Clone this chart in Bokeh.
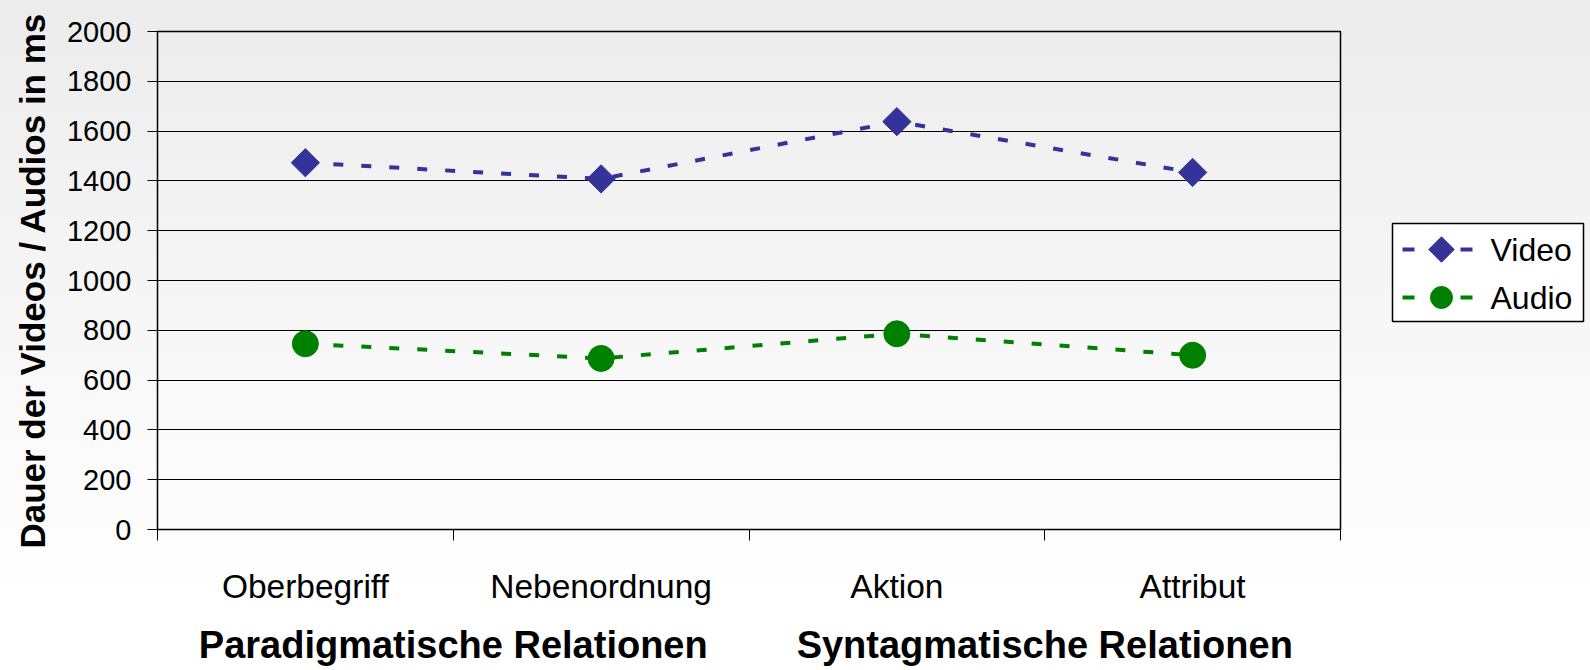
import math
from bokeh.plotting import figure
from bokeh.layouts import row
from bokeh.models import ColumnDataSource, FixedTicker, LinearAxis, Range1d
from bokeh.core.properties import value
from bokeh.embed import file_html
from bokeh.resources import INLINE

categories = ["Oberbegriff", "Nebenordnung", "Aktion", "Attribut"]
groups = ["Paradigmatische Relationen", "Syntagmatische Relationen"]
video = [1473, 1408, 1638, 1434]
audio = [746, 687, 786, 700]
y_ticks = [0, 200, 400, 600, 800, 1000, 1200, 1400, 1600, 1800, 2000]
series = ["Video", "Audio"]
series_colors = ["#333399", "#008000"]
series_markers = ["square", "circle"]

xpos = [i + 0.5 for i in range(len(categories))]
src = ColumnDataSource(dict(x=xpos, cat=categories, video=video, audio=audio))

FONT = "Liberation Sans"
BG = "linear-gradient(to bottom, #ececec 0%, #f8f8f8 55%, #ffffff 90%)"
DASH = "10 18"

p = figure(width=1342, height=670, output_backend="svg", toolbar_location=None,
           x_range=Range1d(0, len(categories)), y_range=Range1d(0, 2000),
           min_border_left=157, min_border_top=31, min_border_right=2, min_border_bottom=141)
p.styles = {"background": BG}
p.border_fill_alpha = 0
p.background_fill_alpha = 0
p.outline_line_color = "black"
p.outline_line_width = 1.5

p.xgrid.visible = False
p.ygrid.grid_line_color = "black"
p.ygrid.grid_line_width = 1
p.ygrid.ticker = FixedTicker(ticks=y_ticks)

# y axis
ya = p.yaxis[0]
ya.ticker = FixedTicker(ticks=y_ticks)
ya.axis_label = "Dauer der Videos / Audios in ms"
ya.axis_label_text_font = FONT
ya.axis_label_text_font_style = "bold"
ya.axis_label_text_font_size = "35px"
ya.axis_label_text_color = "black"
ya.axis_label_standoff = 12
ya.major_label_text_font = FONT
ya.major_label_text_font_size = "29px"
ya.major_label_text_color = "black"
ya.major_label_standoff = 16
ya.major_tick_out = 10
ya.major_tick_in = 0
ya.minor_tick_line_color = None
ya.axis_line_color = "black"
ya.major_tick_line_color = "black"

# x axis: category labels, boundary ticks as minor ticks
xa = p.xaxis[0]
xa.ticker = FixedTicker(ticks=xpos, minor_ticks=list(range(len(categories) + 1)))
xa.major_label_overrides = {x: c for x, c in zip(xpos, categories)}
xa.major_label_text_font = FONT
xa.major_label_text_font_size = "33.5px"
xa.major_label_text_color = "black"
xa.major_tick_out = 0
xa.major_tick_in = 0
xa.minor_tick_out = 11
xa.minor_tick_in = 0
xa.minor_tick_line_color = "black"
xa.major_label_standoff = 27
xa.axis_line_color = "black"

# group axis
gpos = [1.0, 3.0]
ga = LinearAxis(ticker=FixedTicker(ticks=gpos),
                major_label_overrides={x: g for x, g in zip(gpos, groups)})
ga.major_label_text_font = FONT
ga.major_label_text_font_style = "bold"
ga.major_label_text_font_size = "38px"
ga.major_label_text_color = "black"
ga.major_tick_out = 0
ga.major_tick_in = 0
ga.major_tick_line_color = None
ga.minor_tick_line_color = None
ga.axis_line_color = None
ga.major_label_standoff = 16
p.add_layout(ga, "below")

p.line("x", "video", source=src, line_color=series_colors[0], line_width=4, line_dash=DASH)
p.scatter("x", "video", source=src, marker="square", angle=math.pi / 4, size=20,
          fill_color=series_colors[0], line_color=series_colors[0])
p.line("x", "audio", source=src, line_color=series_colors[1], line_width=4, line_dash=DASH)
p.scatter("x", "audio", source=src, marker="circle", size=26,
          fill_color=series_colors[1], line_color=series_colors[1])

# legend panel (drawn with glyphs so the markers match the plot).
# Its frame is aligned with the main frame (rows 31..529), so the y range
# covers that band in page pixels measured from the bottom.
p2 = figure(width=248, height=670, output_backend="svg", toolbar_location=None,
            x_range=Range1d(0, 248), y_range=Range1d(141, 639),
            x_axis_type=None, y_axis_type=None,
            min_border_left=0, min_border_right=0, min_border_top=31, min_border_bottom=141)
p2.styles = {"background": BG}
p2.border_fill_alpha = 0
p2.background_fill_alpha = 0
p2.outline_line_color = None
p2.grid.visible = False

p2.quad(left=[50], right=[241], bottom=[349], top=[447],
        fill_color="white", line_color="black", line_width=1.5)
row_y = [421, 373]
lsrc = ColumnDataSource(dict(
    xs=[[60, 132], [60, 132]], ys=[[row_y[0], row_y[0]], [row_y[1], row_y[1]]],
    mx=[99, 99], my=row_y, tx=[148, 148], text=series, color=series_colors,
    marker=series_markers, size=[18, 22], angle=[math.pi / 4, 0.0]))
p2.multi_line("xs", "ys", source=lsrc, line_color="color", line_width=4, line_dash="12 46")
p2.scatter("mx", "my", source=lsrc, marker="marker", size="size", angle="angle",
           fill_color="color", line_color="color")
p2.text("tx", "my", text="text", source=lsrc, text_font=value(FONT), text_font_size="32px",
        text_baseline="middle", text_align="left", text_color="black")

layout = row(p, p2, spacing=0)
open("out.html", "w").write(file_html(layout, INLINE))
